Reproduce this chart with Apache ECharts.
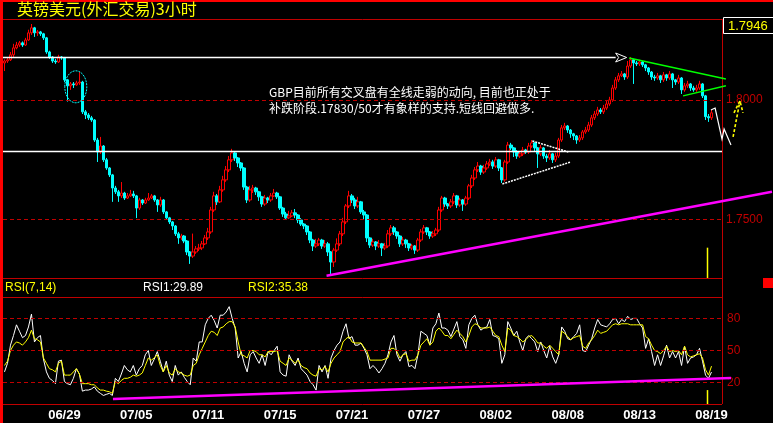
<!DOCTYPE html>
<html><head><meta charset="utf-8">
<script src="https://cdn.jsdelivr.net/npm/echarts/dist/echarts.min.js"></script>
<style>html,body{margin:0;padding:0;background:#000;}#c{width:773px;height:423px;}</style>
</head><body><div id="c"></div>
<script>
// ---------- data ----------
const tickLabels = ['06/29','07/05','07/11','07/15','07/21','07/27','08/02','08/08','08/13','08/19'];
const tickBars   = [20,44,68,92,116,140,164,188,212,236];
const slotCount = 240;

const opens = [
1.8155,1.8163,1.8168,1.8189,1.8218,1.8230,1.8239,1.8230,1.8251,1.8281,
1.8302,1.8281,1.8285,1.8277,1.8260,1.8201,1.8180,1.8163,1.8159,1.8180,
1.8176,1.8084,1.8059,1.8067,1.8063,1.8071,1.8075,1.7950,1.7937,1.7925,
1.7916,1.7832,1.7782,1.7807,1.7749,1.7715,1.7686,1.7631,1.7615,1.7598,
1.7610,1.7589,1.7598,1.7606,1.7598,1.7547,1.7581,1.7568,1.7581,1.7589,
1.7598,1.7581,1.7560,1.7581,1.7531,1.7506,1.7489,1.7472,1.7439,1.7422,
1.7430,1.7409,1.7363,1.7346,1.7363,1.7376,1.7380,1.7397,1.7422,1.7447,
1.7539,1.7598,1.7573,1.7623,1.7665,1.7707,1.7749,1.7778,1.7757,1.7736,
1.7715,1.7635,1.7581,1.7623,1.7631,1.7615,1.7594,1.7564,1.7589,1.7581,
1.7598,1.7610,1.7594,1.7547,1.7522,1.7506,1.7514,1.7527,1.7518,1.7497,
1.7480,1.7472,1.7447,1.7413,1.7388,1.7397,1.7413,1.7388,1.7397,1.7363,
1.7321,1.7371,1.7397,1.7439,1.7489,1.7556,1.7598,1.7581,1.7556,1.7573,
1.7531,1.7518,1.7422,1.7392,1.7405,1.7388,1.7397,1.7380,1.7388,1.7439,
1.7464,1.7447,1.7430,1.7397,1.7413,1.7397,1.7380,1.7388,1.7371,1.7413,
1.7447,1.7464,1.7447,1.7430,1.7439,1.7455,1.7539,1.7589,1.7564,1.7556,
1.7573,1.7598,1.7560,1.7581,1.7564,1.7589,1.7640,1.7673,1.7707,1.7723,
1.7698,1.7715,1.7732,1.7740,1.7723,1.7749,1.7715,1.7665,1.7740,1.7811,
1.7799,1.7782,1.7765,1.7774,1.7790,1.7782,1.7807,1.7820,1.7799,1.7774,
1.7799,1.7765,1.7757,1.7774,1.7749,1.7765,1.7832,1.7883,1.7891,1.7874,
1.7858,1.7849,1.7832,1.7841,1.7866,1.7874,1.7895,1.7925,1.7941,1.7958,
1.7950,1.7966,1.7983,1.8000,1.8050,1.8084,1.8101,1.8109,1.8096,1.8142,
1.8168,1.8155,1.8151,1.8159,1.8147,1.8134,1.8117,1.8096,1.8092,1.8101,
1.8084,1.8105,1.8092,1.8109,1.8084,1.8075,1.8092,1.8042,1.8059,1.8067,
1.8050,1.8042,1.8050,1.8067,1.8017,1.7930,1.7925];

const closes = [
1.8163,1.8168,1.8189,1.8218,1.8230,1.8239,1.8230,1.8251,1.8281,1.8302,
1.8281,1.8285,1.8277,1.8260,1.8201,1.8180,1.8163,1.8159,1.8180,1.8176,
1.8084,1.8059,1.8067,1.8063,1.8071,1.8075,1.7950,1.7937,1.7925,1.7916,
1.7832,1.7782,1.7807,1.7749,1.7715,1.7686,1.7631,1.7615,1.7598,1.7610,
1.7589,1.7598,1.7606,1.7598,1.7547,1.7581,1.7568,1.7581,1.7589,1.7598,
1.7581,1.7560,1.7581,1.7531,1.7506,1.7489,1.7472,1.7439,1.7422,1.7430,
1.7409,1.7363,1.7346,1.7363,1.7376,1.7380,1.7397,1.7422,1.7447,1.7539,
1.7598,1.7573,1.7623,1.7665,1.7707,1.7749,1.7778,1.7757,1.7736,1.7715,
1.7635,1.7581,1.7623,1.7631,1.7615,1.7594,1.7564,1.7589,1.7581,1.7598,
1.7610,1.7594,1.7547,1.7522,1.7506,1.7514,1.7527,1.7518,1.7497,1.7480,
1.7472,1.7447,1.7413,1.7388,1.7397,1.7413,1.7388,1.7397,1.7363,1.7321,
1.7371,1.7397,1.7439,1.7489,1.7556,1.7598,1.7581,1.7556,1.7573,1.7531,
1.7518,1.7422,1.7392,1.7405,1.7388,1.7397,1.7380,1.7388,1.7439,1.7464,
1.7447,1.7430,1.7397,1.7413,1.7397,1.7380,1.7388,1.7371,1.7413,1.7447,
1.7464,1.7447,1.7430,1.7439,1.7455,1.7539,1.7589,1.7564,1.7556,1.7573,
1.7598,1.7560,1.7581,1.7564,1.7589,1.7640,1.7673,1.7707,1.7723,1.7698,
1.7715,1.7732,1.7740,1.7723,1.7749,1.7715,1.7665,1.7740,1.7811,1.7799,
1.7782,1.7765,1.7774,1.7790,1.7782,1.7807,1.7820,1.7799,1.7774,1.7799,
1.7765,1.7757,1.7774,1.7749,1.7765,1.7832,1.7883,1.7891,1.7874,1.7858,
1.7849,1.7832,1.7841,1.7866,1.7874,1.7895,1.7925,1.7941,1.7958,1.7950,
1.7966,1.7983,1.8000,1.8050,1.8084,1.8101,1.8109,1.8096,1.8142,1.8168,
1.8155,1.8151,1.8159,1.8147,1.8134,1.8117,1.8096,1.8092,1.8101,1.8084,
1.8105,1.8092,1.8109,1.8084,1.8075,1.8092,1.8042,1.8059,1.8067,1.8050,
1.8042,1.8050,1.8067,1.8017,1.7930,1.7925,1.7946];

const highs = [
1.8170,1.8176,1.8201,1.8235,1.8243,1.8247,1.8245,1.8260,1.8294,1.8318,
1.8306,1.8293,1.8289,1.8281,1.8264,1.8206,1.8184,1.8172,1.8189,1.8184,
1.8180,1.8088,1.8075,1.8075,1.8080,1.8117,1.8080,1.7958,1.7945,1.7933,
1.7920,1.7841,1.7845,1.7811,1.7757,1.7719,1.7690,1.7640,1.7623,1.7656,
1.7615,1.7610,1.7623,1.7619,1.7602,1.7590,1.7585,1.7590,1.7610,1.7606,
1.7602,1.7585,1.7594,1.7585,1.7535,1.7510,1.7493,1.7476,1.7447,1.7439,
1.7434,1.7413,1.7367,1.7440,1.7388,1.7397,1.7409,1.7434,1.7464,1.7552,
1.7615,1.7606,1.7640,1.7682,1.7723,1.7765,1.7795,1.7786,1.7761,1.7740,
1.7719,1.7640,1.7640,1.7644,1.7636,1.7619,1.7598,1.7602,1.7594,1.7610,
1.7627,1.7615,1.7598,1.7552,1.7531,1.7535,1.7539,1.7543,1.7522,1.7505,
1.7484,1.7476,1.7451,1.7418,1.7418,1.7422,1.7418,1.7413,1.7405,1.7367,
1.7380,1.7420,1.7451,1.7506,1.7564,1.7619,1.7606,1.7590,1.7594,1.7577,
1.7539,1.7522,1.7426,1.7418,1.7409,1.7413,1.7401,1.7401,1.7455,1.7476,
1.7472,1.7451,1.7434,1.7426,1.7418,1.7401,1.7397,1.7392,1.7422,1.7459,
1.7476,1.7468,1.7451,1.7451,1.7464,1.7552,1.7598,1.7594,1.7568,1.7585,
1.7610,1.7602,1.7590,1.7585,1.7598,1.7648,1.7686,1.7719,1.7740,1.7728,
1.7728,1.7744,1.7753,1.7749,1.7761,1.7753,1.7719,1.7749,1.7824,1.7820,
1.7803,1.7790,1.7786,1.7803,1.7795,1.7820,1.7832,1.7824,1.7803,1.7811,
1.7803,1.7774,1.7790,1.7778,1.7778,1.7841,1.7895,1.7904,1.7895,1.7878,
1.7862,1.7853,1.7853,1.7874,1.7887,1.7908,1.7937,1.7954,1.7971,1.7966,
1.7979,1.7996,1.8013,1.8063,1.8096,1.8113,1.8121,1.8113,1.8163,1.8180,
1.8172,1.8163,1.8168,1.8163,1.8151,1.8138,1.8121,1.8105,1.8113,1.8105,
1.8117,1.8109,1.8121,1.8113,1.8088,1.8105,1.8096,1.8071,1.8080,1.8071,
1.8059,1.8063,1.8080,1.8071,1.8021,1.7941,1.7958];

const lows = [
1.8121,1.8155,1.8163,1.8180,1.8212,1.8222,1.8222,1.8226,1.8247,1.8272,
1.8264,1.8268,1.8268,1.8251,1.8193,1.8172,1.8155,1.8151,1.8155,1.8168,
1.8075,1.7993,1.8042,1.8050,1.8059,1.8063,1.7941,1.7920,1.7916,1.7908,
1.7824,1.7740,1.7774,1.7740,1.7707,1.7677,1.7573,1.7606,1.7573,1.7589,
1.7581,1.7585,1.7594,1.7589,1.7505,1.7539,1.7560,1.7564,1.7577,1.7585,
1.7573,1.7531,1.7552,1.7522,1.7497,1.7480,1.7455,1.7430,1.7397,1.7413,
1.7400,1.7350,1.7313,1.7338,1.7355,1.7367,1.7371,1.7392,1.7413,1.7439,
1.7531,1.7560,1.7568,1.7615,1.7657,1.7698,1.7740,1.7744,1.7719,1.7702,
1.7623,1.7568,1.7573,1.7610,1.7602,1.7577,1.7552,1.7556,1.7568,1.7573,
1.7594,1.7585,1.7539,1.7510,1.7497,1.7501,1.7510,1.7505,1.7484,1.7472,
1.7459,1.7434,1.7400,1.7367,1.7380,1.7388,1.7376,1.7380,1.7346,1.7271,
1.7300,1.7363,1.7388,1.7430,1.7480,1.7547,1.7568,1.7543,1.7547,1.7522,
1.7497,1.7405,1.7380,1.7384,1.7371,1.7380,1.7346,1.7371,1.7380,1.7430,
1.7434,1.7418,1.7384,1.7388,1.7380,1.7367,1.7371,1.7355,1.7363,1.7405,
1.7439,1.7434,1.7418,1.7422,1.7430,1.7447,1.7531,1.7552,1.7543,1.7547,
1.7564,1.7547,1.7552,1.7535,1.7556,1.7581,1.7631,1.7665,1.7698,1.7686,
1.7690,1.7707,1.7723,1.7711,1.7715,1.7702,1.7652,1.7657,1.7732,1.7790,
1.7761,1.7753,1.7757,1.7765,1.7774,1.7774,1.7799,1.7782,1.7715,1.7765,
1.7753,1.7740,1.7749,1.7736,1.7740,1.7757,1.7824,1.7874,1.7862,1.7841,
1.7832,1.7816,1.7824,1.7832,1.7858,1.7866,1.7887,1.7916,1.7933,1.7941,
1.7941,1.7958,1.7975,1.7992,1.8042,1.8075,1.8096,1.8084,1.8088,1.8134,
1.8067,1.8142,1.8142,1.8138,1.8121,1.8105,1.8084,1.8080,1.8084,1.8071,
1.8075,1.8080,1.8084,1.8050,1.8063,1.8067,1.8025,1.8034,1.8050,1.8038,
1.8034,1.8034,1.8042,1.8008,1.7916,1.7908,1.7916];

const rsi1 = [
30,38,55,64,74,68,62,64,72,84,
58,62,64,42,30,24,22,19,40,41,
21,19,18,24,33,28,12,13,13,14,
16,12,10,8,9,10,8,24,21,28,
36,32,30,36,27,33,36,46,50,36,
42,49,40,30,40,27,21,36,27,30,
25,21,18,43,40,58,58,74,80,83,
78,71,83,83,86,91,80,71,43,49,
38,30,46,49,43,38,46,36,49,46,
50,54,30,27,26,46,40,36,43,33,
30,27,21,18,13,36,30,36,24,43,
50,55,58,68,75,61,63,55,55,57,
52,46,33,36,33,29,33,38,46,58,
64,46,40,46,49,35,36,33,46,68,
66,64,55,71,75,85,71,71,69,63,
70,77,63,60,52,74,80,83,74,69,
71,72,79,64,63,61,38,46,77,71,
64,68,58,50,61,64,61,58,49,58,
50,43,54,44,38,46,72,68,61,60,
63,66,74,50,49,55,61,71,79,74,
73,72,75,79,80,75,79,77,82,79,
80,80,75,71,52,61,49,36,46,36,
45,55,43,49,43,49,36,54,38,43,
44,46,52,40,27,24,29.89];

const rsi2 = [
36,40,50,55,58,57,55,58,62,69,
61,60,58,43,38,33,32,30,38,40,
27,27,27,30,33,28,19,19,19,18,
18,15,13,13,12,11.5,10,21,19,22,
24,24,25,27,26,27,29,36,43,41,
43,46,36,30,36,29,27,33,30,29,
27,26,27,36,38,46,52,58,64,68,
67,64,71,72,75,77,77,72,58,46,
45,43,50,50,49,46,46,44,49,49,
49,50,40,38,36,43,41,38,41,36,
34,33,29,27,26,33,32,35,30,38,
43,46,49,58,61,63,58,57,57,57,
53,49,41,41,41,41,41,42,43,52,
52,49,43,46,47,40,41,41,46,55,
58,61,55,58,68,71,68,64,64,61,
65,69,66,63,58,64,72,75,74,71,
71,71,72,68,64,63,55,49,71,69,
64,63,61,58,60,63,64,61,57,57,
54,52,55,52,49,46,68,66,63,60,
62,63,64,54,52,57,60,64,69,66,
67,68,71,74,75,74,75,75,75,74,
74,74,74,74,63,61,55,50,49,47,
50,54,49,50,49,50,46,54,46,44,
45,46,47,43,32,27,35.38];

const priceLevels = [1.8000, 1.7500];
const rsiLevels = [80, 50, 20];
const titleText = '英镑美元(外汇交易)3小时';
const noteLines = ['GBP目前所有交叉盘有全线走弱的动向, 目前也正处于', '补跌阶段.17830/50才有象样的支持.短线回避做多.'];

// annotation drawings, in (bar index, price) / (bar index, rsi) terms
const whiteLevels = [{price:1.8180, from:-0.5, to:204}, {price:1.7786, from:-0.5, to:239.5}];
const magentaLine = [[107.5,1.7263],[256.2,1.7615]];
const whiteTri = [[[176.2,1.7828],[188.2,1.7782]], [[166.2,1.7648],[189.0,1.7740]]];
const greenTri = [[[208.5,1.8176],[240.8,1.8088]], [[226.5,1.8017],[240.8,1.8059]]];
const ellipseAt = [23.8, 1.8055];
const zigzag = [[235.8,1.7958],[237.2,1.7966],[239.5,1.7836],[240.2,1.7878],[242.5,1.7811]];
const yellowArrow = [[243.2,1.7845],[245.5,1.7996]];
const markerBar = 234.5;
const rsiTrend = [[36.2,4.7],[242.5,24.3]];

// ---------- chart ----------
const DR = '#c00000';
const cats = Array.from({length: slotCount}, (_, i) => String(i));
const candle = opens.map((o, i) => [o, closes[i], lows[i], highs[i]]);
const G0 = {left:3, top:19, width:719, height:259};
const G1 = {left:3, top:297, width:719, height:107};

const option = {
  backgroundColor: '#000',
  animation: false,
  grid: [G0, G1],
  xAxis: [
    {type:'category', gridIndex:0, data:cats, boundaryGap:true, show:false},
    {type:'category', gridIndex:1, data:cats, boundaryGap:true,
     axisLine:{show:false}, axisTick:{show:false},
     axisLabel:{show:true, color:'#ffffff', fontWeight:'bold', fontFamily:'Liberation Sans', fontSize:13, margin:5,
       interval:(idx) => tickBars.indexOf(idx) >= 0,
       formatter:(val, idx) => { const k = tickBars.indexOf(idx); return k >= 0 ? tickLabels[k] : ''; }}}
  ],
  yAxis: [
    {type:'value', gridIndex:0, min:1.7254, max:1.8339, show:false},
    {type:'value', gridIndex:1, min:0, max:100, show:false}
  ],
  series: [
    {type:'candlestick', xAxisIndex:0, yAxisIndex:0, data:candle, barWidth:3,
     itemStyle:{color:'#000000', color0:'#00ffff', borderColor:'#ff0000', borderColor0:'#00ffff', borderWidth:1},
     markLine:{silent:true, symbol:'none', animation:false,
       lineStyle:{color:DR, type:[4,3], width:1},
       label:{position:'end', color:DR, fontFamily:'Liberation Sans', fontSize:12, distance:4, formatter:(p) => p.value.toFixed(4)},
       data: priceLevels.map(v => ({yAxis:v}))}},
    {type:'line', xAxisIndex:1, yAxisIndex:1, data:rsi1, symbol:'none', lineStyle:{color:'#ffffff', width:1}, z:3,
     markLine:{silent:true, symbol:'none', animation:false,
       lineStyle:{color:DR, type:[4,3], width:1},
       label:{position:'end', color:DR, fontFamily:'Liberation Sans', fontSize:12, distance:5, formatter:(p) => String(p.value)},
       data: rsiLevels.map(v => ({yAxis:v}))}},
    {type:'line', xAxisIndex:1, yAxisIndex:1, data:rsi2, symbol:'none', lineStyle:{color:'#ffff00', width:1}, z:4}
  ]
};

const chart = echarts.init(document.getElementById('c'));
chart.setOption(option);

const xa = chart.convertToPixel({xAxisIndex:0}, 0);
const xb = chart.convertToPixel({xAxisIndex:0}, slotCount - 1);
const px = i => xa + (xb - xa) * i / (slotCount - 1);
const py = p => chart.convertToPixel({yAxisIndex:0}, p);
const ry = v => chart.convertToPixel({yAxisIndex:1}, v);

const R = G0.left + G0.width;
const g = [];
const line = (x1,y1,x2,y2,stroke,w,dash,z) => g.push({type:'line', shape:{x1,y1,x2,y2}, style:{stroke, lineWidth:w||1, lineDash:dash||null}, z:z||50, silent:true});
const text = (x,y,t,fill,font,align) => g.push({type:'text', x, y, style:{text:t, fill, font, align:align||'left', verticalAlign:'middle'}, z:60, silent:true});

// frame
g.push({type:'rect', shape:{x:0,y:0,width:3,height:423}, style:{fill:'#ff0000'}, z:40});
g.push({type:'rect', shape:{x:0,y:0,width:773,height:2}, style:{fill:'#ff0000'}, z:40});
[19.5, 278.5, 297.5, 404.5].forEach(y => line(3, y, R, y, DR, 1, null, 10));
line(R + 0.5, 19, R + 0.5, 404, DR, 1, null, 10);
g.push({type:'rect', shape:{x:763,y:278,width:10,height:10}, style:{fill:'#ff0000'}, z:40});

// titles
text(17, 9, titleText, '#ffff00', '16px "Noto Sans CJK SC"');
text(269, 92, noteLines[0], '#ffffff', '12px "Noto Sans CJK SC"');
text(269, 108, noteLines[1], '#ffffff', '12px "Noto Sans CJK SC"');
text(5, 288, 'RSI(7,14)', '#ffff00', '12px "Liberation Sans"');
text(143, 288, 'RSI1:' + rsi1[rsi1.length-1].toFixed(2), '#ffffff', '12px "Liberation Sans"');
text(248, 288, 'RSI2:' + rsi2[rsi2.length-1].toFixed(2), '#ffff00', '12px "Liberation Sans"');

// last price box
g.push({type:'rect', shape:{x:723.5,y:17.5,width:60,height:16}, style:{fill:'#000', stroke:'#ffffff', lineWidth:1}, z:55});
text(728, 26, closes[closes.length-1].toFixed(4), '#ffff00', '13px "Liberation Sans"');

// drawings on price panel
whiteLevels.forEach(l => line(px(l.from), Math.round(py(l.price))+0.5, px(l.to), Math.round(py(l.price))+0.5, '#ffffff', 1.5));
{ const ax = px(204), ay = Math.round(py(1.8180)) + 0.5;
  g.push({type:'polygon', shape:{points:[[ax,ay-4.5],[ax+11,ay],[ax,ay+4.5],[ax+3,ay]]}, style:{fill:'#000', stroke:'#ffffff', lineWidth:1}, z:51}); }
line(px(magentaLine[0][0]), py(magentaLine[0][1]), px(magentaLine[1][0]), py(magentaLine[1][1]), '#ff00ff', 2.5);
whiteTri.forEach(s => line(px(s[0][0]), py(s[0][1]), px(s[1][0]), py(s[1][1]), '#ffffff', 1.5, [2,1]));
greenTri.forEach(s => line(px(s[0][0]), py(s[0][1]), px(s[1][0]), py(s[1][1]), '#00ff00', 1.5));
g.push({type:'ellipse', shape:{cx:px(ellipseAt[0]), cy:py(ellipseAt[1]), rx:11, ry:16}, style:{fill:'none', stroke:'#00ffff', lineWidth:1, lineDash:[2,1]}, z:50});
g.push({type:'polyline', shape:{points: zigzag.map(p => [px(p[0]), py(p[1])])}, style:{stroke:'#ffffff', lineWidth:1.2, fill:'none'}, z:50});
{ const x1 = px(yellowArrow[0][0]), y1 = py(yellowArrow[0][1]), x2 = px(yellowArrow[1][0]), y2 = py(yellowArrow[1][1]);
  line(x1, y1, x2, y2, '#ffff00', 1.6, [3,2]);
  g.push({type:'polyline', shape:{points:[[x2-6,y2+12],[x2,y2],[x2+3,y2+12]]}, style:{stroke:'#ffff00', lineWidth:1.6, lineDash:[3,2], fill:'none'}, z:50}); }
{ const mx = Math.round(px(markerBar)) + 0.5;
  line(mx, py(1.7381), mx, G0.top + G0.height, '#ffff00', 1.5);
  line(mx, ry(13), mx, G1.top + G1.height, '#ffff00', 1.5); }
line(px(rsiTrend[0][0]), ry(rsiTrend[0][1]), px(rsiTrend[1][0]), ry(rsiTrend[1][1]), '#ff00ff', 2.5);

chart.setOption({graphic: g});
</script>
</body></html>
